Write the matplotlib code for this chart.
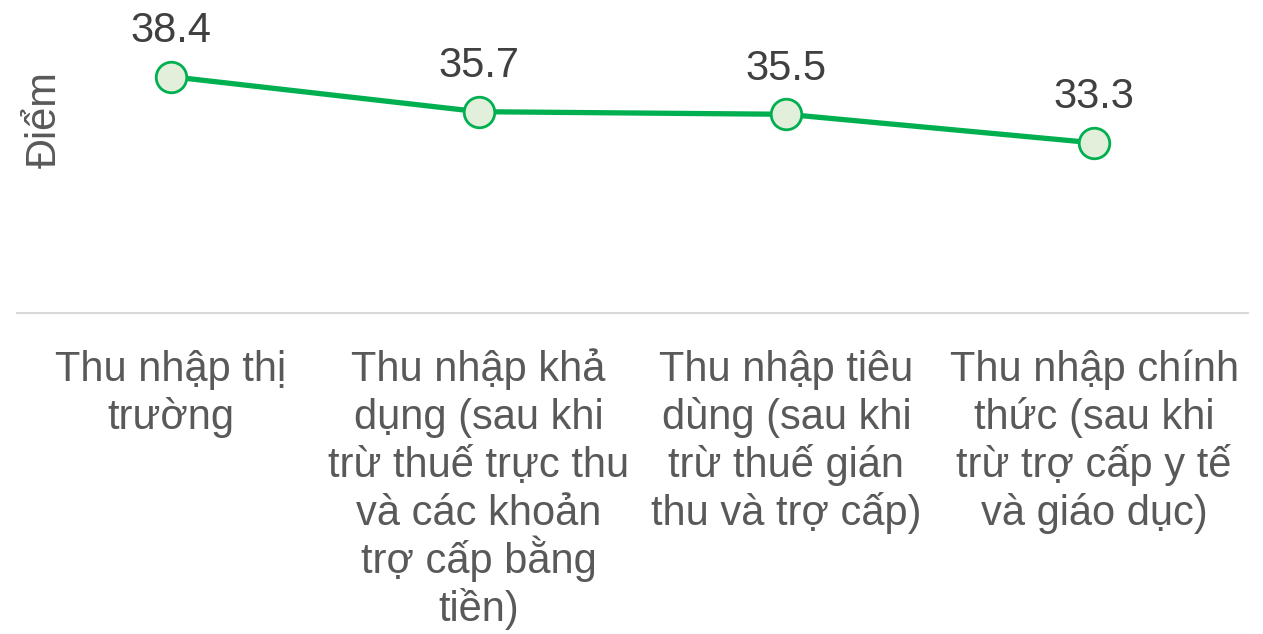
import matplotlib
matplotlib.use('Agg')
import matplotlib.pyplot as plt
import matplotlib.transforms as mtransforms

plt.rcParams['font.family'] = ['Liberation Sans', 'DejaVu Sans']

categories = [
    "Thu nhập thị\ntrường",
    "Thu nhập khả\ndụng (sau khi\ntrừ thuế trực thu\nvà các khoản\ntrợ cấp bằng\ntiền)",
    "Thu nhập tiêu\ndùng (sau khi\ntrừ thuế gián\nthu và trợ cấp)",
    "Thu nhập chính\nthức (sau khi\ntrừ trợ cấp y tế\nvà giáo dục)",
]
scores = [38.4, 35.7, 35.5, 33.3]

green = '#00B050'
face = '#E2EFDA'
W, H = 1263, 634

fig = plt.figure(figsize=(W / 100, H / 100), dpi=100)
ax = fig.add_axes([17 / W, 1 - 313 / H, 1231 / W, 313 / H])

x = list(range(len(scores)))
ax.plot(x, scores, color=green, lw=3.8, marker='o', ms=22, mfc=face, mec=green, mew=2, zorder=3)

for xi, v in zip(x, scores):
    ax.annotate(f"{v:.1f}", (xi, v), xytext=(0, 25), textcoords='offset points',
                ha='center', va='baseline', fontsize=30, color='#404040')

ax.set_xlim(-0.5, 3.5)
ax.set_ylim(20.2, 44.3)
ax.set_yticks([])
ax.set_xticks([])
for s in ['top', 'right', 'left']:
    ax.spines[s].set_visible(False)
ax.spines['bottom'].set_color('#D9D9D9')
ax.spines['bottom'].set_linewidth(1.5)

# category labels, one line at a time so the spacing stays even
trans = mtransforms.blended_transform_factory(ax.transData, fig.transFigure)
for xi, lab in zip(x, categories):
    for k, line in enumerate(lab.split("\n")):
        ax.text(xi, 1 - (381 + 48 * k) / H, line, transform=trans, ha='center',
                va='baseline', fontsize=30, color='#595959', clip_on=False)

fig.text(45 / W, 1 - 120 / H, "Điểm", rotation=90, ha='center', va='center',
         fontsize=30, color='#595959')

fig.savefig('out.png', dpi=100)
